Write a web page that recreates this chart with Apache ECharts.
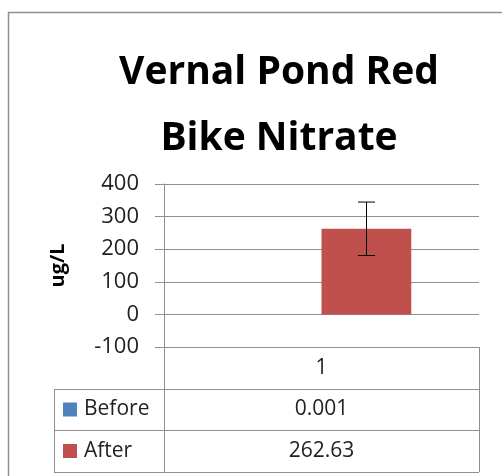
<!DOCTYPE html>
<html>
<head>
<meta charset="utf-8">
<script src="https://cdn.jsdelivr.net/npm/echarts@6/dist/echarts.min.js"></script>
<style>
  html, body { margin: 0; padding: 0; background: #fff; }
  #chart { width: 502px; height: 476px; }
</style>
</head>
<body>
<div id="chart"></div>
<script>
// data
const categories = ['1']
const seriesNames = ['Before', 'After']
const beforeValues = [0.001]
const afterValues = [262.63]
const afterErrors = [82]
const yTicks = { min: -100, max: 400, interval: 100 }

const FONT = 'Open Sans'
const TEXT = '#222'
const LINE = '#8e8e8e'
const BLUE = '#4f81bd'
const RED = '#c0504d'
const GAP = 0.43

// plot area, in px
const plot = { left: 164, top: 184, right: 23, bottom: 129 }
const W = 502, H = 476
const x0 = plot.left, x1 = W - plot.right
const yTable = H - plot.bottom
const rows = [yTable, yTable + 42, yTable + 83, yTable + 125]
const keyLeft = 54

const chart = echarts.init(document.getElementById('chart'))

const hline = (y, xa, xb) => ({ type: 'line', shape: { x1: xa, y1: y + 0.5, x2: xb, y2: y + 0.5 }, style: { stroke: LINE, lineWidth: 1 } })
const vline = (x, ya, yb) => ({ type: 'line', shape: { x1: x + 0.5, y1: ya, x2: x + 0.5, y2: yb }, style: { stroke: LINE, lineWidth: 1 } })
const cellText = (str, x, y, align) => ({
  type: 'text', x: x, y: y,
  style: { text: str, font: '21px "' + FONT + '"', fill: TEXT, align: align, verticalAlign: 'middle' }
})

const table = [
  // outer chart border
  { type: 'rect', shape: { x: 8.5, y: 12.5, width: 600, height: 600 }, style: { fill: 'none', stroke: LINE, lineWidth: 1.5 } },
  hline(rows[1], keyLeft, x1), hline(rows[2], keyLeft, x1), hline(rows[3], keyLeft, x1),
  vline(keyLeft, rows[1], rows[3]), vline(x0, yTable, rows[3]), vline(x1, yTable, rows[3]),
  cellText(categories[0], (x0 + x1) / 2, (rows[0] + rows[1]) / 2, 'center')
]
const seriesColors = [BLUE, RED]
const seriesVals = [beforeValues, afterValues]
seriesNames.forEach((name, i) => {
  const cy = (rows[i + 1] + rows[i + 2]) / 2
  table.push({ type: 'rect', shape: { x: 63, y: cy - 7, width: 14, height: 14 }, style: { fill: seriesColors[i] } })
  table.push(cellText(name, 84, cy, 'left'))
  table.push(cellText(String(seriesVals[i][0]), (x0 + x1) / 2, cy, 'center'))
})

const option = {
  animation: false,
  title: {
    text: 'Vernal Pond Red\nBike Nitrate',
    left: 274,
    top: 35,
    textAlign: 'center',
    textStyle: { fontFamily: FONT, fontSize: 39, fontWeight: 'bold', color: '#000', lineHeight: 66 }
  },
  grid: { left: plot.left, top: plot.top, right: plot.right, bottom: plot.bottom, containLabel: false },
  xAxis: {
    type: 'category',
    data: categories,
    axisLine: { show: false },
    axisTick: { show: false },
    axisLabel: { show: false }
  },
  yAxis: {
    type: 'value',
    min: yTicks.min,
    max: yTicks.max,
    interval: yTicks.interval,
    name: 'ug/L',
    nameLocation: 'middle',
    nameGap: 96,
    nameTextStyle: { fontFamily: FONT, fontSize: 20, fontWeight: 'bold', color: '#000' },
    axisLine: { show: true, lineStyle: { color: LINE } },
    axisTick: { show: true, length: 9, lineStyle: { color: LINE } },
    axisLabel: { margin: 25, fontFamily: FONT, fontSize: 22, color: TEXT },
    splitLine: { lineStyle: { color: LINE } }
  },
  series: [
    {
      name: seriesNames[0], type: 'bar', data: beforeValues,
      barGap: '0%', barCategoryGap: (GAP * 100) + '%',
      itemStyle: { color: BLUE }
    },
    {
      name: seriesNames[1], type: 'bar', data: afterValues,
      barGap: '0%', barCategoryGap: (GAP * 100) + '%',
      itemStyle: { color: RED }
    },
    {
      type: 'custom',
      data: afterValues.map((v, i) => [i, v - afterErrors[i], v + afterErrors[i]]),
      renderItem: (params, api) => {
        const lo = api.coord([api.value(0), api.value(1)])
        const hi = api.coord([api.value(0), api.value(2)])
        const band = api.size([1, 0])[0]
        const bw = band * (1 - GAP) / 2
        const cx = Math.round(lo[0] + bw / 2) + 0.5
        const cap = 8.5
        const st = { stroke: '#000', lineWidth: 1 }
        return {
          type: 'group',
          children: [
            { type: 'line', shape: { x1: cx, y1: hi[1], x2: cx, y2: lo[1] }, style: st },
            { type: 'line', shape: { x1: cx - cap, y1: hi[1], x2: cx + cap, y2: hi[1] }, style: st },
            { type: 'line', shape: { x1: cx - cap, y1: lo[1], x2: cx + cap, y2: lo[1] }, style: st }
          ]
        }
      },
      z: 5
    }
  ],
  graphic: table
}

chart.setOption(option)
</script>
</body>
</html>
